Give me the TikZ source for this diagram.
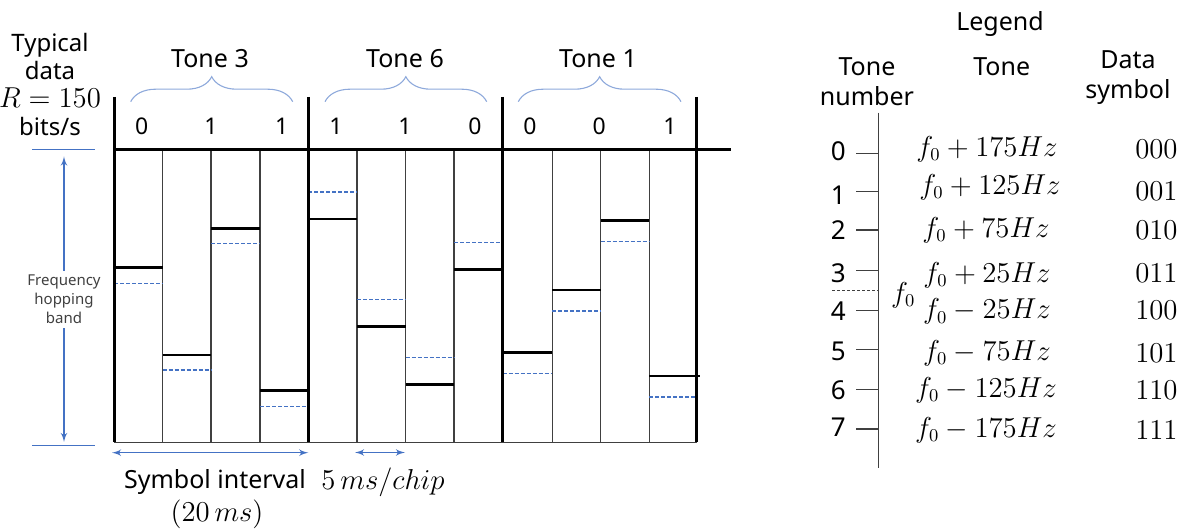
\documentclass[tikz,border=0pt]{standalone}
\usepackage{amsmath}
\usepackage{fontspec}
\setmainfont{Noto Sans}
\usepackage{tikz}
\usetikzlibrary{shapes,arrows}
\usetikzlibrary{positioning}
\usetikzlibrary{decorations.pathreplacing}
\definecolor{bandblue}{HTML}{4472C4}
\definecolor{bracketblue}{HTML}{8EA9DB}
\definecolor{chipgray}{HTML}{404040}
\tikzset{>=latex', x=0.5pt, y=-0.5pt, inner sep=0pt, font=\fontsize{12.5}{14}\selectfont}
\tikzstyle{chipline} = [draw=chipgray, line width=0.7pt]
\tikzstyle{symline} = [draw, line width=1.5pt]
\tikzstyle{tonelevel} = [draw, line width=1.3pt]
\tikzstyle{refline} = [draw=bandblue, dash pattern=on 2pt off 1pt, line width=0.55pt]
\tikzstyle{spanarrow} = [draw=bandblue, <->, line width=0.6pt]
\tikzstyle{bracket} = [draw=bracketblue, line width=0.55pt, decorate, decoration={brace, amplitude=12.5pt}]
\tikzstyle{bit} = [font=\fontsize{11.5}{12}\selectfont]
\tikzstyle{head} = [align=center, font=\fontsize{12.5}{15}\selectfont]
\tikzstyle{tonenum} = [font=\fontsize{13}{14}\selectfont]
\tikzstyle{eq} = [font=\fontsize{13.5}{16}\selectfont]
\tikzstyle{legtick} = [draw=chipgray, line width=0.65pt]

\begin{document}
\begin{tikzpicture}
			\useasboundingbox (0,0) rectangle (1185,529);

			\node [head, font=\fontsize{12}{14}\selectfont] (rate) at (50,85) {Typical\\data\\{\fontsize{13.5}{14}\selectfont$R = 150$}\\bits/s};

			\node (tone3) at (210,59) {Tone 3};
			\node (tone6) at (405,59) {Tone 6};
			\node (tone1) at (598,59) {Tone 1};

			\draw [bracket] (130.7,101.7) -- (292.7,101.7);
			\draw [bracket] (325,101.7) -- (486.7,101.7);
			\draw [bracket] (518.3,101.7) -- (681,101.7);

			\node [bit] (b1) at (141.7,126) {0};
			\node [bit] (b2) at (211,126) {1};
			\node [bit] (b3) at (281.7,126) {1};
			\node [bit] (b4) at (336,126) {1};
			\node [bit] (b5) at (405,126) {1};
			\node [bit] (b6) at (475,126) {0};
			\node [bit] (b7) at (530,126) {0};
			\node [bit] (b8) at (599.3,126) {0};
			\node [bit] (b9) at (670,126) {1};

			\coordinate (band_tl) at (114.3,149.3);
			\coordinate (band_bl) at (114.3,442.3);
			\coordinate (band_tr) at (730.7,149.3);
			\coordinate (band_br) at (696.7,442.3);

			\draw [chipline] (162.7,149.3) -- (162.7,442.3);
			\draw [chipline] (211,149.3) -- (211,442.3);
			\draw [chipline] (260,149.3) -- (260,442.3);
			\draw [chipline] (357,149.3) -- (357,442.3);
			\draw [chipline] (405.7,149.3) -- (405.7,442.3);
			\draw [chipline] (454,149.3) -- (454,442.3);
			\draw [chipline] (552.3,149.3) -- (552.3,442.3);
			\draw [chipline] (600.7,149.3) -- (600.7,442.3);
			\draw [chipline] (649.3,149.3) -- (649.3,442.3);
			\draw [chipline] (band_bl) -- (band_br);

			\draw [refline] (114.3,283.3) -- (162.7,283.3);
			\draw [refline] (162.7,370) -- (211,370);
			\draw [refline] (211,243.3) -- (260,243.3);
			\draw [refline] (260,406.7) -- (308.3,406.7);
			\draw [refline] (308.3,192) -- (357,192);
			\draw [refline] (357,299.3) -- (405.7,299.3);
			\draw [refline] (405.7,357.7) -- (454,357.7);
			\draw [refline] (454,242.3) -- (502.7,242.3);
			\draw [refline] (502.7,373.3) -- (552.3,373.3);
			\draw [refline] (552.3,311) -- (600.7,311);
			\draw [refline] (600.7,241.3) -- (649.3,241.3);
			\draw [refline] (649.3,397) -- (696.7,397);

			\draw [tonelevel] (114.3,267.7) -- (162.7,267.7);
			\draw [tonelevel] (162.7,355) -- (211,355);
			\draw [tonelevel] (211,228.3) -- (260,228.3);
			\draw [tonelevel] (260,390.7) -- (308.3,390.7);
			\draw [tonelevel] (308.3,219) -- (357,219);
			\draw [tonelevel] (357,326.7) -- (405.7,326.7);
			\draw [tonelevel] (405.7,384.7) -- (454,384.7);
			\draw [tonelevel] (454,269.3) -- (502.7,269.3);
			\draw [tonelevel] (502.7,352.7) -- (552.3,352.7);
			\draw [tonelevel] (552.3,290) -- (600.7,290);
			\draw [tonelevel] (600.7,220.7) -- (649.3,220.7);
			\draw [tonelevel] (649.3,376) -- (700,376);

			\draw [line width=1.3pt] (band_tl) -- (band_tr);
			\draw [symline] (114.3,97) -- (band_bl);
			\draw [symline] (308.3,97) -- (308.3,442.3);
			\draw [symline] (502.7,97) -- (502.7,442.3);
			\draw [symline] (696.7,97) -- (band_br);

			\draw [draw=bandblue, line width=0.6pt] (32,149.3) -- (95,149.3);
			\draw [draw=bandblue, line width=0.6pt] (32,445.7) -- (95,445.7);
			\coordinate (hop_top) at (64,156.5);
			\coordinate (hop_bot) at (64,442);
			\draw [spanarrow] (hop_top) -- node[fill=white, inner sep=2pt, align=center, text=chipgray, font=\fontsize{7.5}{9.5}\selectfont, name=hop] {Frequency\\hopping\\band} (hop_bot);

			\coordinate (sym_l) at (112,452.7);
			\coordinate (sym_r) at (308.3,452.7);
			\draw [spanarrow] (sym_l) -- (sym_r);
			\coordinate (chip_l) at (355,452.5);
			\coordinate (chip_r) at (405,452.5);
			\draw [spanarrow] (chip_l) -- (chip_r);

			\node (interval) at (215,482) {Symbol interval};
			\node [eq] (interval_ms) at (217,514) {$(20\,ms)$};
			\node [eq] (chiprate) at (383,482) {$5\,ms/chip$};

			\node (legend) at (1000,24) {Legend};
			\node [head] (num_head) at (867,82) {Tone\\number};
			\node [head] (tone_head) at (1001.7,66.7) {Tone};
			\node [head] (data_head) at (1128,78) {Data\\symbol};

			\coordinate (axis_top) at (878.3,112.7);
			\coordinate (axis_bot) at (878.3,468.3);
			\draw [legtick] (axis_top) -- (axis_bot);

			\node [tonenum] (n0) at (838.3,151.7) {0};
			\node [tonenum] (n1) at (838.3,195) {1};
			\node [tonenum] (n2) at (838.3,230) {2};
			\node [tonenum] (n3) at (838.3,273.3) {3};
			\node [tonenum] (n4) at (838.3,310.7) {4};
			\node [tonenum] (n5) at (838.3,351.7) {5};
			\node [tonenum] (n6) at (838.3,390) {6};
			\node [tonenum] (n7) at (838.3,427.7) {7};

			\draw [legtick] (856,153.3) -- (878.3,153.3);
			\draw [legtick] (856,191.7) -- (878.3,191.7);
			\draw [legtick] (856,230) -- (878.3,230);
			\draw [legtick] (856,270.7) -- (878.3,270.7);
			\draw [legtick] (856,310.7) -- (878.3,310.7);
			\draw [legtick] (856,349.3) -- (878.3,349.3);
			\draw [legtick] (856,389.3) -- (878.3,389.3);
			\draw [legtick] (856,429) -- (878.3,429);
			\draw [legtick, line width=0.4pt, dash pattern=on 1.5pt off 1pt] (832,290) -- (878.3,290);

			\node [eq] (f0) at (903.3,295) {$f_0$};

			\node [eq] (t0) at (987,149.3) {$f_0 + 175Hz$};
			\node [eq] (t1) at (990,187.3) {$f_0 + 125Hz$};
			\node [eq] (t2) at (986,230) {$f_0 + 75Hz$};
			\node [eq] (t3) at (987,275) {$f_0 + 25Hz$};
			\node [eq] (t4) at (987,311.7) {$f_0 - 25Hz$};
			\node [eq] (t5) at (987,353.3) {$f_0 - 75Hz$};
			\node [eq] (t6) at (986,390) {$f_0 - 125Hz$};
			\node [eq] (t7) at (986,430) {$f_0 - 175Hz$};

			\node [eq, anchor=east] (d0) at (1178,149.3) {$000$};
			\node [eq, anchor=east] (d1) at (1178,191.7) {$001$};
			\node [eq, anchor=east] (d2) at (1178,230) {$010$};
			\node [eq, anchor=east] (d3) at (1178,273.3) {$011$};
			\node [eq, anchor=east] (d4) at (1178,310.7) {$100$};
			\node [eq, anchor=east] (d5) at (1178,353.3) {$101$};
			\node [eq, anchor=east] (d6) at (1178,390) {$110$};
			\node [eq, anchor=east] (d7) at (1178,430) {$111$};
		\end{tikzpicture}
\end{document}
